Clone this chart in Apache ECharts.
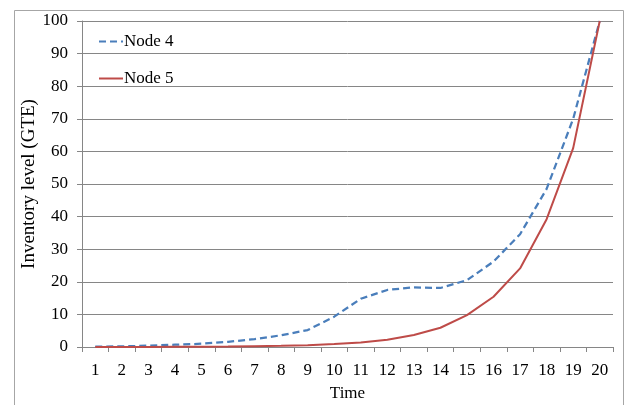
<!DOCTYPE html>
<html>
<head>
<meta charset="utf-8">
<script src="https://cdn.jsdelivr.net/npm/echarts@6/dist/echarts.min.js"></script>
<style>html,body{margin:0;padding:0;background:#fff;}#c{width:626px;height:405px;}</style>
</head>
<body>
<div id="c"></div>
<script>
const categories = ['1','2','3','4','5','6','7','8','9','10','11','12','13','14','15','16','17','18','19','20'];
const node4 = [0.1, 0.2, 0.4, 0.7, 1.0, 1.6, 2.4, 3.6, 5.2, 9.3, 14.8, 17.5, 18.3, 18.1, 20.5, 26.2, 34.6, 48.5, 70, 100];
const node5 = [0, 0, 0, 0.05, 0.1, 0.15, 0.25, 0.35, 0.5, 0.9, 1.4, 2.2, 3.7, 5.9, 9.8, 15.4, 24.1, 39.2, 61, 100];
const yTicks = {min: 0, max: 100, interval: 10};

const font = 'Liberation Serif, Times New Roman, serif';
const chart = echarts.init(document.getElementById('c'), null, {renderer: 'canvas'});
chart.setOption({
  animation: false,
  backgroundColor: '#fff',
  graphic: [{
    type: 'rect', left: 12, top: 8, shape: {width: 609, height: 405},
    style: {fill: 'none', stroke: '#a6a6a6', lineWidth: 1}, silent: true
  }],
  grid: {left: 82, right: 13, top: 21, bottom: 58, containLabel: false, outerBoundsMode: 'none'},
  legend: {
    orient: 'vertical', left: 98, top: 33, itemGap: 20, padding: 0,
    itemWidth: 24, itemHeight: 10,
    itemStyle: {opacity: 0},
    textStyle: {fontFamily: font, fontSize: 17, color: '#000', padding: [0, 0, 0, -4]},
    data: ['Node 4', 'Node 5']
  },
  xAxis: {
    type: 'category', data: categories, boundaryGap: true,
    name: 'Time', nameLocation: 'middle', nameGap: 38, nameMoveOverlap: false,
    nameTextStyle: {fontFamily: font, fontSize: 17, color: '#000'},
    axisLine: {lineStyle: {color: '#868686', width: 1}},
    axisTick: {show: true, length: 5, alignWithLabel: false, lineStyle: {color: '#868686'}},
    axisLabel: {fontFamily: font, fontSize: 17, color: '#000', margin: 15}
  },
  yAxis: {
    type: 'value', min: yTicks.min, max: yTicks.max, interval: yTicks.interval,
    name: 'Inventory level (GTE)', nameLocation: 'middle', nameGap: 43, nameMoveOverlap: false,
    nameTextStyle: {fontFamily: font, fontSize: 19, color: '#000'},
    axisLine: {show: true, lineStyle: {color: '#868686', width: 1}},
    axisTick: {show: true, length: 5, lineStyle: {color: '#868686'}},
    axisLabel: {fontFamily: font, fontSize: 17, color: '#000', margin: 14},
    splitLine: {show: true, lineStyle: {color: '#868686', width: 1}}
  },
  series: [
    {name: 'Node 4', type: 'line', data: node4, symbol: 'none', smooth: false,
     lineStyle: {color: '#4a7ebb', width: 2.25, type: [7, 4]}, itemStyle: {color: '#4a7ebb'}},
    {name: 'Node 5', type: 'line', data: node5, symbol: 'none', smooth: false,
     lineStyle: {color: '#be4b48', width: 2}, itemStyle: {color: '#be4b48'}}
  ]
});
</script>
</body>
</html>
